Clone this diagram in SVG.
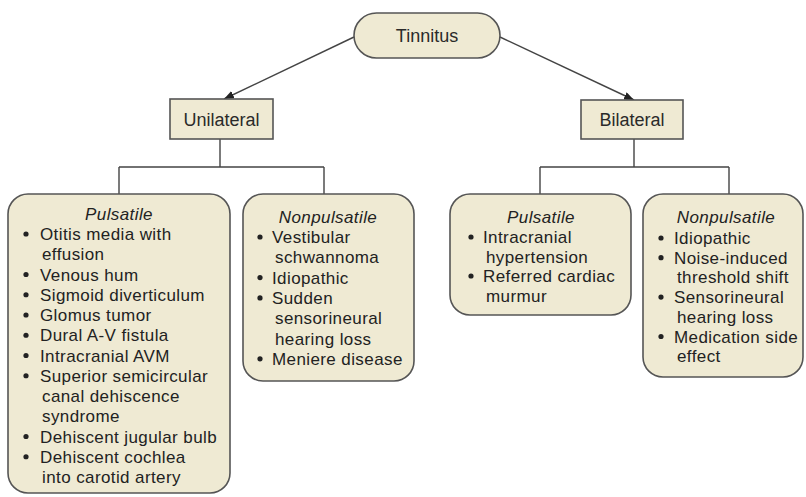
<svg xmlns="http://www.w3.org/2000/svg" width="806" height="497" viewBox="0 0 806 497">
<defs>
<marker id="arr" viewBox="0 0 10 8" refX="10" refY="4" markerWidth="10" markerHeight="8" markerUnits="userSpaceOnUse" orient="auto">
<path d="M0,0 L10,4 L0,8 z" fill="#222"/>
</marker>
</defs>
<style>
.box{fill:#efead3;stroke:#555;stroke-width:1.6}
.lbl{font-family:"Liberation Sans",Arial,sans-serif;font-size:18px;fill:#2a2a2a;text-anchor:middle}
.t{font-family:"Liberation Sans",Arial,sans-serif;font-size:17px;fill:#222;letter-spacing:0.4px}
.h{font-style:italic;text-anchor:middle}
.b{fill:#222}
.ln{fill:none;stroke:#444;stroke-width:1.4}
</style>
<rect width="806" height="497" fill="#ffffff"/>
<g id="connectors">
<line class="ln" x1="354" y1="37" x2="224" y2="99" marker-end="url(#arr)"/>
<line class="ln" x1="500" y1="37" x2="634" y2="100" marker-end="url(#arr)"/>
<path class="ln" d="M220,139 V167 M119,167 H324 M119,167 V194 M324,167 V194"/>
<path class="ln" d="M634,139 V167 M540,167 H729 M540,167 V194 M729,167 V194"/>
</g>
<g id="tinnitus">
<rect class="box" x="354" y="13" width="146" height="45" rx="22.5"/>
<text class="lbl" x="427" y="42">Tinnitus</text>
</g>
<g id="unilateral">
<rect class="box" x="170" y="99" width="103" height="40"/>
<text class="lbl" x="221.5" y="126">Unilateral</text>
</g>
<g id="bilateral">
<rect class="box" x="581" y="100" width="102" height="39"/>
<text class="lbl" x="632" y="126">Bilateral</text>
</g>
<g id="uni-pulsatile">
<rect class="box" x="8" y="194" width="222" height="299" rx="20"/>
<text class="t h" x="119" y="220">Pulsatile</text>
<g class="b">
<circle cx="26" cy="234" r="2.6"/>
<circle cx="26" cy="274.5" r="2.6"/>
<circle cx="26" cy="294.75" r="2.6"/>
<circle cx="26" cy="315" r="2.6"/>
<circle cx="26" cy="335.25" r="2.6"/>
<circle cx="26" cy="355.5" r="2.6"/>
<circle cx="26" cy="375.75" r="2.6"/>
<circle cx="26" cy="436.5" r="2.6"/>
<circle cx="26" cy="456.75" r="2.6"/>
</g>
<text class="t" x="40" y="240">Otitis media with</text>
<text class="t" x="42" y="260.25">effusion</text>
<text class="t" x="40" y="280.5">Venous hum</text>
<text class="t" x="40" y="300.75">Sigmoid diverticulum</text>
<text class="t" x="40" y="321">Glomus tumor</text>
<text class="t" x="40" y="341.25">Dural A-V fistula</text>
<text class="t" x="40" y="361.5">Intracranial AVM</text>
<text class="t" x="40" y="381.75">Superior semicircular</text>
<text class="t" x="42" y="402">canal dehiscence</text>
<text class="t" x="42" y="422.25">syndrome</text>
<text class="t" x="40" y="442.5">Dehiscent jugular bulb</text>
<text class="t" x="40" y="462.75">Dehiscent cochlea</text>
<text class="t" x="42" y="483">into carotid artery</text>
</g>
<g id="uni-nonpulsatile">
<rect class="box" x="243" y="194" width="171" height="187" rx="20"/>
<text class="t h" x="328" y="223">Nonpulsatile</text>
<g class="b">
<circle cx="260" cy="237" r="2.6"/>
<circle cx="260" cy="277.6" r="2.6"/>
<circle cx="260" cy="297.9" r="2.6"/>
<circle cx="260" cy="358.8" r="2.6"/>
</g>
<text class="t" x="272" y="243">Vestibular</text>
<text class="t" x="275" y="263.3">schwannoma</text>
<text class="t" x="272" y="283.6">Idiopathic</text>
<text class="t" x="272" y="303.9">Sudden</text>
<text class="t" x="275" y="324.2">sensorineural</text>
<text class="t" x="275" y="344.5">hearing loss</text>
<text class="t" x="272" y="364.8">Meniere disease</text>
</g>
<g id="bi-pulsatile">
<rect class="box" x="450" y="194" width="181" height="121" rx="20"/>
<text class="t h" x="541" y="223">Pulsatile</text>
<g class="b">
<circle cx="471" cy="237" r="2.6"/>
<circle cx="471" cy="276" r="2.6"/>
</g>
<text class="t" x="483" y="243">Intracranial</text>
<text class="t" x="486" y="262.5">hypertension</text>
<text class="t" x="483" y="282">Referred cardiac</text>
<text class="t" x="486" y="301.5">murmur</text>
</g>
<g id="bi-nonpulsatile">
<rect class="box" x="643" y="194" width="160" height="183" rx="20"/>
<text class="t h" x="726" y="223">Nonpulsatile</text>
<g class="b">
<circle cx="661" cy="238" r="2.6"/>
<circle cx="661" cy="257.7" r="2.6"/>
<circle cx="661" cy="297.1" r="2.6"/>
<circle cx="661" cy="336.5" r="2.6"/>
</g>
<text class="t" x="674" y="244">Idiopathic</text>
<text class="t" x="674" y="263.7">Noise-induced</text>
<text class="t" x="677" y="283.4">threshold shift</text>
<text class="t" x="674" y="303.1">Sensorineural</text>
<text class="t" x="677" y="322.8">hearing loss</text>
<text class="t" x="674" y="342.5">Medication side</text>
<text class="t" x="677" y="362.2">effect</text>
</g>
</svg>
